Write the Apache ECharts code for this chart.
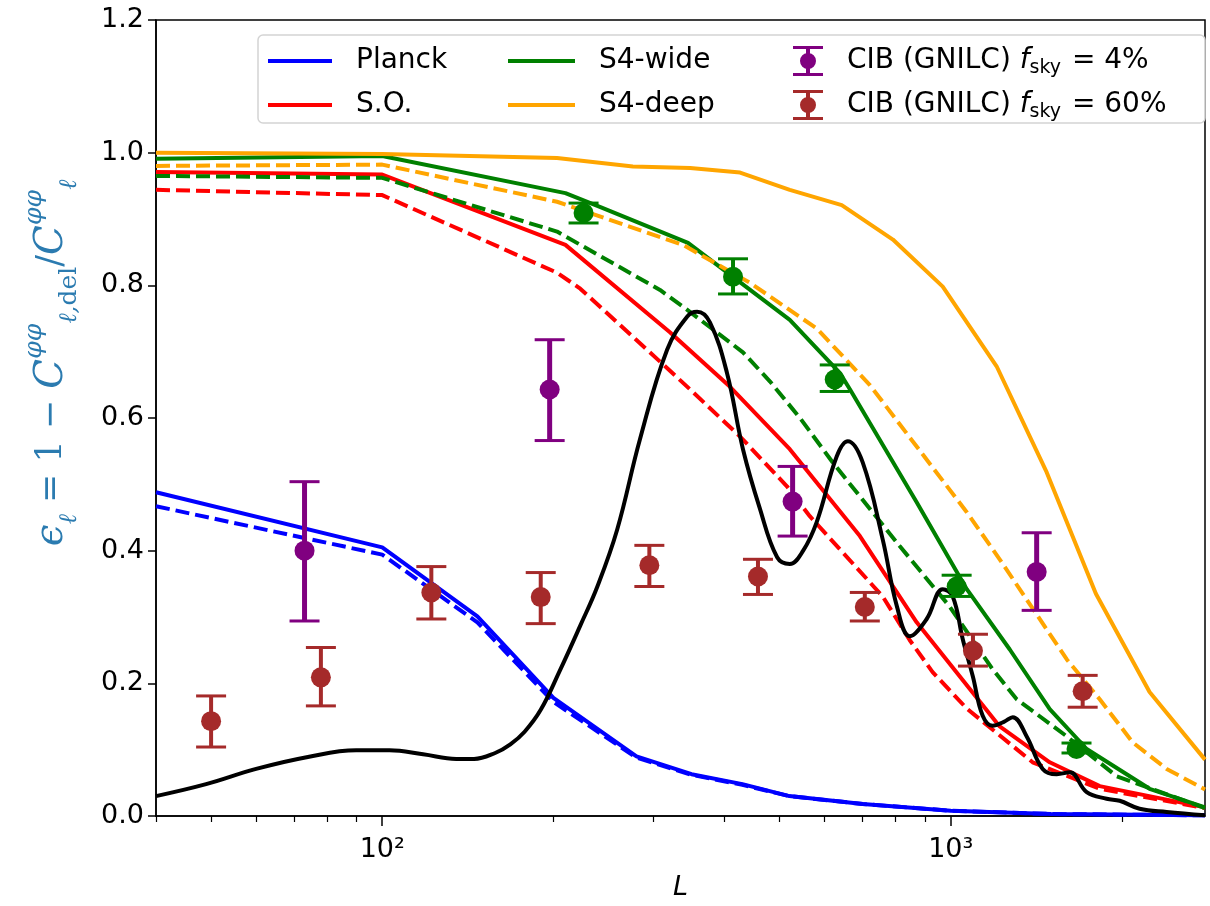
<!DOCTYPE html>
<html>
<head>
<meta charset="utf-8">
<title>delensing efficiency</title>
<script src="https://cdn.jsdelivr.net/npm/echarts@6/dist/echarts.min.js"></script>
<style>
  html, body { margin: 0; padding: 0; background: #fff; }
  #chart { width: 1210px; height: 906px; }
</style>
</head>
<body>
<div id="chart"></div>
<script>
// curves: [L, epsilon]
var planckSolid = [[40,0.488],[100,0.405],[147,0.301],[200,0.178],[280,0.09],[350,0.063],[430,0.048],[520,0.03],[700,0.018],[1000,0.008],[1500,0.003],[2800,0.001]];
var planckDashed = [[40,0.467],[100,0.394],[147,0.292],[200,0.172],[280,0.088],[350,0.062],[430,0.047],[520,0.03],[700,0.018],[1000,0.008],[1500,0.003],[2800,0.001]];
var soSolid = [[40,0.971],[100,0.967],[210,0.861],[321,0.729],[409,0.647],[521,0.553],[692,0.422],[871,0.292],[1219,0.135],[1493,0.081],[1828,0.045],[2800,0.013]];
var soDashed = [[40,0.944],[100,0.936],[203,0.819],[223,0.795],[308,0.685],[348,0.643],[426,0.572],[515,0.497],[565,0.452],[759,0.331],[847,0.265],[929,0.217],[1067,0.162],[1393,0.081],[1828,0.041],[2800,0.012]];
var s4wSolid = [[40,0.991],[100,0.995],[210,0.939],[242,0.918],[345,0.864],[521,0.748],[638,0.668],[665,0.643],[871,0.473],[1067,0.342],[1270,0.251],[1493,0.161],[1734,0.101],[2237,0.041],[2800,0.013]];
var s4wDashed = [[40,0.965],[100,0.962],[203,0.881],[308,0.793],[338,0.768],[431,0.699],[481,0.655],[543,0.60],[620,0.533],[813,0.407],[995,0.316],[1185,0.221],[1306,0.176],[1600,0.12],[1957,0.06],[2800,0.012]];
var s4dSolid = [[40,1.0],[100,0.998],[203,0.992],[276,0.979],[348,0.977],[426,0.970],[521,0.944],[643,0.921],[791,0.869],[968,0.798],[1204,0.678],[1475,0.518],[1800,0.335],[2237,0.187],[2800,0.085]];
var s4dDashed = [[40,0.980],[100,0.982],[203,0.926],[338,0.861],[443,0.804],[581,0.735],[720,0.650],[871,0.557],[1067,0.458],[1219,0.387],[1600,0.236],[1828,0.176],[2089,0.111],[2397,0.071],[2800,0.04]];
var blackCurve = [[40,0.03],[49,0.048],[60,0.071],[74,0.089],[90,0.099],[103,0.099],[118,0.093],[135,0.086],[145,0.086],[158,0.095],[168,0.108],[178,0.127],[190,0.16],[205,0.218],[223,0.287],[239,0.346],[259,0.432],[284,0.568],[317,0.703],[344,0.753],[358,0.76],[377,0.744],[404,0.668],[431,0.553],[461,0.465],[495,0.39],[521,0.38],[550,0.40],[581,0.443],[630,0.542],[659,0.565],[700,0.533],[759,0.417],[804,0.316],[847,0.271],[907,0.297],[968,0.342],[1008,0.331],[1050,0.266],[1093,0.211],[1138,0.151],[1185,0.136],[1240,0.142],[1285,0.149],[1360,0.12],[1451,0.071],[1536,0.063],[1619,0.066],[1734,0.036],[1880,0.026],[1982,0.023],[2148,0.011],[2397,0.006],[2800,0.001]];

// error bar points
var cib4L = [73, 197, 527, 1416];
var cib4Val = [0.40, 0.643, 0.474, 0.368];
var cib4Lo = [0.294, 0.566, 0.422, 0.31];
var cib4Hi = [0.504, 0.718, 0.527, 0.427];

var cib60L = [50, 78, 122, 190, 295, 458, 706, 1094, 1706];
var cib60Val = [0.143, 0.209, 0.337, 0.33, 0.378, 0.361, 0.315, 0.249, 0.188];
var cib60Lo = [0.104, 0.166, 0.297, 0.29, 0.346, 0.334, 0.294, 0.226, 0.164];
var cib60Hi = [0.181, 0.254, 0.376, 0.367, 0.408, 0.387, 0.337, 0.274, 0.212];

var greenL = [226, 414, 625, 1024, 1664];
var greenVal = [0.909, 0.813, 0.658, 0.346, 0.101];
var greenLo = [0.894, 0.787, 0.64, 0.331, 0.095];
var greenHi = [0.924, 0.84, 0.68, 0.363, 0.11];

var majorTicks = [100, 1000];
var minorTicks = [40, 50, 60, 70, 80, 90, 200, 300, 400, 500, 600, 700, 800, 900, 2000];

var NAME_4 = 'CIB (GNILC) {i|f}{s|sky} = 4%';
var NAME_60 = 'CIB (GNILC) {i|f}{s|sky} = 60%';
var errIcon = 'path://M0,0H30V3H0Z M13,0H17V30H13Z M0,27H30V30H0Z M15,7A8,8 0 1,1 15,23A8,8 0 1,1 15,7Z';
var LABEL_COLOR = '#2b7bb0';

function pts(L, v) {
  return L.map(function (x, i) { return [x, v[i]]; });
}
function bars(L, lo, hi) {
  return L.map(function (x, i) { return [x, lo[i], hi[i]]; });
}

function lineSeries(name, data, color, dashed) {
  return {
    name: name,
    type: 'line',
    data: data,
    showSymbol: false,
    symbol: 'none',
    lineStyle: { color: color, width: 4, type: dashed ? [14, 6] : 'solid' },
    itemStyle: { color: color },
    z: 2
  };
}

function errSeries(name, data, color, width) {
  return {
    name: name,
    type: 'custom',
    data: data,
    z: 4,
    renderItem: function (params, api) {
      var top = api.coord([api.value(0), api.value(2)]);
      var bot = api.coord([api.value(0), api.value(1)]);
      var st = { stroke: color, lineWidth: 3 };
      return {
        type: 'group',
        children: [
          { type: 'line', shape: { x1: top[0], y1: top[1], x2: bot[0], y2: bot[1] }, style: { stroke: color, lineWidth: width } },
          { type: 'line', shape: { x1: top[0] - 15, y1: top[1], x2: top[0] + 15, y2: top[1] }, style: st },
          { type: 'line', shape: { x1: bot[0] - 15, y1: bot[1], x2: bot[0] + 15, y2: bot[1] }, style: st }
        ]
      };
    }
  };
}

function dotSeries(name, data, color) {
  return {
    name: name,
    type: 'scatter',
    data: data,
    symbol: 'circle',
    symbolSize: 20,
    itemStyle: { color: color, opacity: 1 },
    z: 5
  };
}

var legendText = { fontFamily: 'DejaVu Sans', fontSize: 28, color: '#000', lineHeight: 34, padding: [0, 0, 0, 19] };
var legendRich = {
  i: { fontFamily: 'DejaVu Sans', fontStyle: 'italic', fontSize: 28, lineHeight: 34 },
  s: { fontFamily: 'DejaVu Sans', fontSize: 19, lineHeight: 34, verticalAlign: 'bottom', padding: [0, 2, 0, 0] }
};

function mathStyle(size, italic, valign) {
  return { fontFamily: 'DejaVu Serif', fontStyle: italic ? 'italic' : 'normal', fontSize: size, color: LABEL_COLOR, lineHeight: 60, verticalAlign: valign };
}

var chart = echarts.init(document.getElementById('chart'), null, { renderer: 'canvas' });

var option = {
  backgroundColor: '#fff',
  animation: false,
  grid: { left: 156, right: 5, top: 20, bottom: 89, show: true, borderColor: '#000', borderWidth: 1.5, containLabel: false },
  xAxis: [
    {
      type: 'log',
      logBase: 10,
      min: 40,
      max: 2800,
      name: 'L',
      nameLocation: 'middle',
      nameGap: 58,
      nameTextStyle: { fontFamily: 'DejaVu Sans', fontStyle: 'italic', fontSize: 27, color: '#000' },
      axisLine: { show: true, lineStyle: { color: '#000', width: 1.5 } },
      axisTick: { show: true, inside: false, length: 10, customValues: majorTicks, lineStyle: { color: '#000', width: 1.5 } },
      axisLabel: {
        show: true,
        customValues: majorTicks,
        margin: 20,
        fontFamily: 'DejaVu Sans',
        fontSize: 27,
        color: '#000',
        formatter: function (v) {
          var e = Math.round(Math.log10(v));
          return '10' + (e === 2 ? '\u00b2' : '\u00b3');
        }
      },
      splitLine: { show: false },
      minorTick: { show: false },
      minorSplitLine: { show: false }
    },
    {
      type: 'log',
      logBase: 10,
      min: 40,
      max: 2800,
      position: 'bottom',
      axisLine: { show: false },
      axisTick: { show: true, inside: false, length: 6, customValues: minorTicks, lineStyle: { color: '#000', width: 1.2 } },
      axisLabel: { show: false },
      splitLine: { show: false }
    }
  ],
  yAxis: {
    type: 'value',
    min: 0,
    max: 1.2,
    interval: 0.2,
    name: '{i|\u03f5}{sub|\u2113}{n| = 1 \u2212 }{i|C}{sup|\u03c6\u03c6}{sub|\u2113,}{r|del}{n|/}{i|C}{sup|\u03c6\u03c6}{sub|\u2113}',
    nameLocation: 'middle',
    nameGap: 74,
    nameRotate: 90,
    nameTextStyle: {
      color: LABEL_COLOR,
      fontFamily: 'DejaVu Serif',
      fontSize: 34,
      padding: [0, 0, 0, 110],
      rich: {
        i: mathStyle(39, true, 'middle'),
        n: mathStyle(35, false, 'middle'),
        r: mathStyle(25, false, 'bottom'),
        sup: mathStyle(25, true, 'top'),
        sub: mathStyle(25, true, 'bottom')
      }
    },
    axisLine: { show: true, lineStyle: { color: '#000', width: 1.5 } },
    axisTick: { show: true, inside: false, length: 8, lineStyle: { color: '#000', width: 1.5 } },
    axisLabel: {
      margin: 12,
      fontFamily: 'DejaVu Sans',
      fontSize: 27,
      color: '#000',
      formatter: function (v) { return v.toFixed(1); }
    },
    splitLine: { show: false }
  },
  legend: [
    {
      orient: 'vertical', left: 268, top: 44, padding: 0, itemGap: 10,
      itemWidth: 64, itemHeight: 4, icon: 'rect',
      textStyle: legendText,
      data: [
        { name: 'Planck', itemStyle: { color: '#0000ff' } },
        { name: 'S.O.', itemStyle: { color: '#ff0000' } }
      ]
    },
    {
      orient: 'vertical', left: 508, top: 44, padding: 0, itemGap: 10,
      itemWidth: 67, itemHeight: 4, icon: 'rect',
      textStyle: legendText,
      data: [
        { name: 'S4-wide', itemStyle: { color: '#008000' } },
        { name: 'S4-deep', itemStyle: { color: '#ffa500' } }
      ]
    },
    {
      orient: 'vertical', left: 793, top: 44, padding: 0, itemGap: 10,
      itemWidth: 30, itemHeight: 30, icon: errIcon,
      textStyle: Object.assign({}, legendText, { rich: legendRich }),
      data: [
        { name: NAME_4, itemStyle: { color: '#800080' } },
        { name: NAME_60, itemStyle: { color: '#a52a2a' } }
      ]
    }
  ],
  graphic: [
    {
      type: 'rect',
      shape: { x: 258, y: 35, width: 947, height: 88, r: 5 },
      style: { fill: 'rgba(255,255,255,0.85)', stroke: '#d4d4d4', lineWidth: 1.5 },
      z: 3
    }
  ],
  series: [
    lineSeries('Planck', planckSolid, '#0000ff', false),
    lineSeries('Planck dashed', planckDashed, '#0000ff', true),
    lineSeries('S.O.', soSolid, '#ff0000', false),
    lineSeries('S.O. dashed', soDashed, '#ff0000', true),
    lineSeries('S4-wide', s4wSolid, '#008000', false),
    lineSeries('S4-wide dashed', s4wDashed, '#008000', true),
    lineSeries('S4-deep', s4dSolid, '#ffa500', false),
    lineSeries('S4-deep dashed', s4dDashed, '#ffa500', true),
    Object.assign(lineSeries('CIB kernel', blackCurve, '#000000', false), { smooth: 0.4, z: 3 }),
    errSeries(NAME_4, bars(cib4L, cib4Lo, cib4Hi), '#800080', 5),
    dotSeries(NAME_4, pts(cib4L, cib4Val), '#800080'),
    errSeries(NAME_60, bars(cib60L, cib60Lo, cib60Hi), '#a52a2a', 4),
    dotSeries(NAME_60, pts(cib60L, cib60Val), '#a52a2a'),
    errSeries('S4 points', bars(greenL, greenLo, greenHi), '#008000', 4),
    dotSeries('S4 points', pts(greenL, greenVal), '#008000')
  ]
};

chart.setOption(option);
</script>
</body>
</html>
